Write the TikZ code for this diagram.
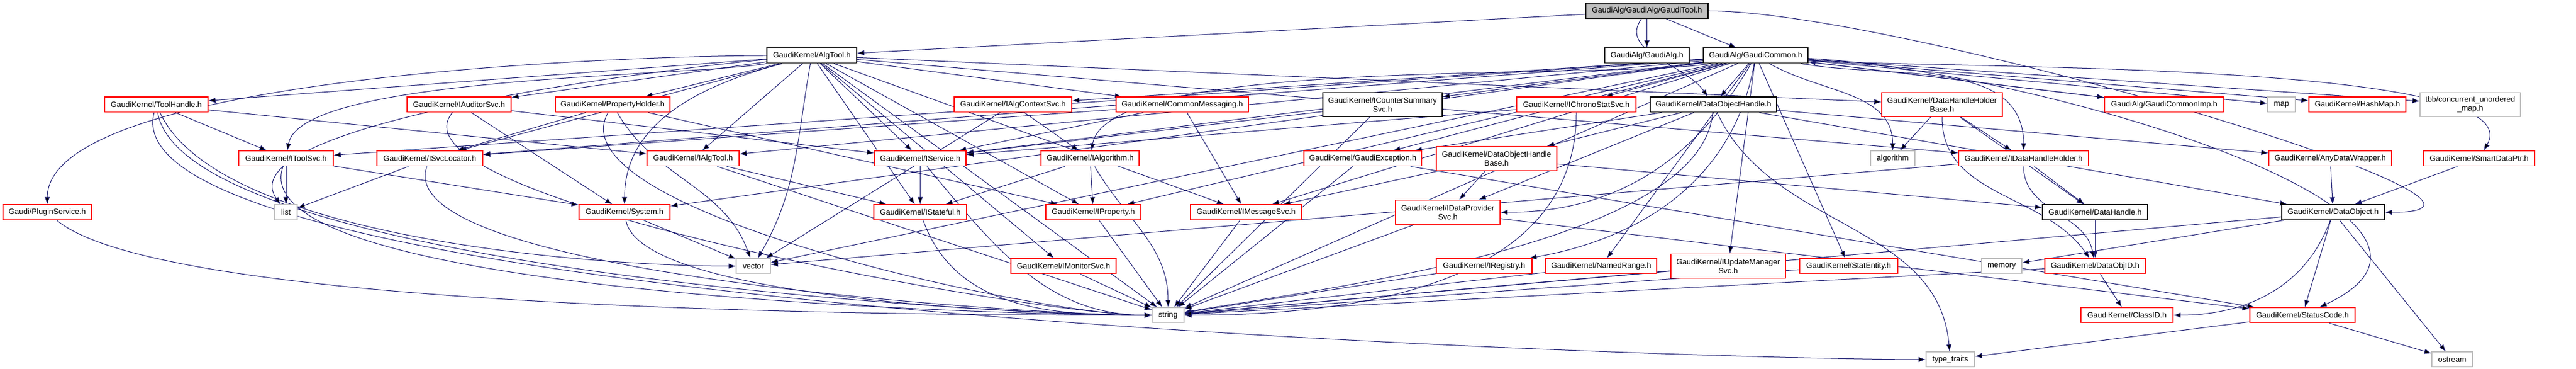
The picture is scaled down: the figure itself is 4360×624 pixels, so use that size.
\documentclass[tikz,border=0pt]{standalone}
\usepackage{fontspec}
\setmainfont{Liberation Sans}
\usetikzlibrary{arrows.meta,backgrounds}
\definecolor{edgeblue}{RGB}{25,25,112}
\definecolor{boxgray}{RGB}{191,191,191}
\tikzset{
  file/.style={draw=black,fill=white,line width=0.14pt,inner sep=0.2pt,minimum height=2.56pt,
    font=\fontsize{1.32}{1.52}\selectfont,align=center},
  redfile/.style={file,draw=red},
  sysfile/.style={file,draw=boxgray},
  twoline/.style={minimum height=4.1pt},
  wd/.style={minimum width=#1*0.1pt},
  dep/.style={draw=edgeblue,line width=0.1pt,-{Latex[length=1.2pt,width=0.9pt]}}
}
\begin{document}
\begin{tikzpicture}[x=0.1pt,y=-0.1pt]
        \useasboundingbox (0,0) rectangle (4360,624);
        % rank 0
        \node[file,fill=boxgray,wd=207] (GT) at (2787.5,18.5) {GaudiAlg/GaudiAlg/GaudiTool.h};
        % rank 1
        \node[file,wd=152] (AT) at (1374,94) {GaudiKernel/AlgTool.h};
        \node[file,wd=143] (GA) at (2787.5,94) {GaudiAlg/GaudiAlg.h};
        \node[file,wd=177] (GC) at (2971.5,94) {GaudiAlg/GaudiCommon.h};
        % rank 2
        \node[redfile,wd=175] (TH) at (264.5,177) {GaudiKernel/ToolHandle.h};
        \node[redfile,wd=176] (IAud) at (777,177) {GaudiKernel/IAuditorSvc.h};
        \node[redfile,wd=194] (PH) at (1037,177) {GaudiKernel/PropertyHolder.h};
        \node[redfile,wd=199] (IACS) at (1714.5,177) {GaudiKernel/IAlgContextSvc.h};
        \node[redfile,wd=224] (CM) at (2001,177) {GaudiKernel/CommonMessaging.h};
        \node[file,twoline,wd=202] (ICSS) at (2340,177) {GaudiKernel/ICounterSummary\\Svc.h};
        \node[redfile,wd=202] (ICSvc) at (2668,177) {GaudiKernel/IChronoStatSvc.h};
        \node[file,wd=214] (DOH) at (2900,177) {GaudiKernel/DataObjectHandle.h};
        \node[redfile,twoline,wd=204] (DHHB) at (3287,177) {GaudiKernel/DataHandleHolder\\Base.h};
        \node[redfile,wd=202] (GCImp) at (3663,177) {GaudiAlg/GaudiCommonImp.h};
        \node[sysfile,wd=47] (map) at (3861.5,177) {map};
        \node[redfile,wd=164] (HM) at (3990,177) {GaudiKernel/HashMap.h};
        \node[sysfile,twoline,wd=170] (tbb) at (4181,177) {tbb/concurrent\_unordered\\\_map.h};
        % rank 3
        \node[redfile,wd=160] (ITS) at (484,268) {GaudiKernel/IToolSvc.h};
        \node[redfile,wd=179] (ISL) at (727.5,268) {GaudiKernel/ISvcLocator.h};
        \node[redfile,wd=156] (IAT) at (1173,268) {GaudiKernel/IAlgTool.h};
        \node[redfile,wd=155] (ISvc) at (1557.5,268) {GaudiKernel/IService.h};
        \node[redfile,wd=166] (IAlgo) at (1845,268) {GaudiKernel/IAlgorithm.h};
        \node[redfile,wd=199] (GE) at (2306.5,268) {GaudiKernel/GaudiException.h};
        \node[redfile,twoline,wd=204] (DOHB) at (2533,268) {GaudiKernel/DataObjectHandle\\Base.h};
        \node[sysfile,wd=75] (alg) at (3203.5,268) {algorithm};
        \node[redfile,wd=220] (IDHH) at (3425,268) {GaudiKernel/IDataHandleHolder.h};
        \node[redfile,wd=208] (ADW) at (3944,268) {GaudiKernel/AnyDataWrapper.h};
        \node[redfile,wd=188] (SDP) at (4196,268) {GaudiKernel/SmartDataPtr.h};
        % rank 4
        \node[redfile,wd=150] (PS) at (80,359) {Gaudi/PluginService.h};
        \node[sysfile,wd=38] (lst) at (484,359) {list};
        \node[redfile,wd=154] (Sys) at (1057,359) {GaudiKernel/System.h};
        \node[redfile,wd=157] (ISt) at (1557.5,359) {GaudiKernel/IStateful.h};
        \node[redfile,wd=161] (IProp) at (1850.5,359) {GaudiKernel/IProperty.h};
        \node[redfile,wd=188] (IMsg) at (2109,359) {GaudiKernel/IMessageSvc.h};
        \node[redfile,twoline,wd=177] (IDPS) at (2450.5,359) {GaudiKernel/IDataProvider\\Svc.h};
        \node[file,wd=178] (DH) at (3546,359) {GaudiKernel/DataHandle.h};
        \node[file,wd=174] (DO) at (3949,359) {GaudiKernel/DataObject.h};
        % rank 5
        \node[sysfile,wd=58] (vec) at (1275,450) {vector};
        \node[redfile,wd=178] (IMon) at (1800,450) {GaudiKernel/IMonitorSvc.h};
        \node[redfile,wd=162] (IReg) at (2512,450) {GaudiKernel/IRegistry.h};
        \node[redfile,wd=188] (NR) at (2710,450) {GaudiKernel/NamedRange.h};
        \node[redfile,twoline,wd=194] (IUMS) at (2925,450) {GaudiKernel/IUpdateManager\\Svc.h};
        \node[redfile,wd=166] (SE) at (3129,450) {GaudiKernel/StatEntity.h};
        \node[sysfile,wd=68] (mem) at (3388,450) {memory};
        \node[redfile,wd=170] (DOID) at (3546,450) {GaudiKernel/DataObjID.h};
        % rank 6
        \node[sysfile,wd=54] (str) at (1977,533) {string};
        \node[redfile,wd=156] (CID) at (3600,533) {GaudiKernel/ClassID.h};
        \node[redfile,wd=178] (SC) at (3897,533) {GaudiKernel/StatusCode.h};
        % rank 7
        \node[sysfile,wd=82] (tt) at (3301,608) {type\_traits};
        \node[sysfile,wd=69] (os) at (4150.5,608) {ostream};
        % includes
        \begin{scope}[on background layer]
        \draw[dep] (GT) edge (GA) edge (GC) edge (AT) edge[out=-125,in=125] (DOH) edge[out=0,in=0,looseness=0.7] (DO);
        \draw[dep] (AT) edge[out=180,in=90,looseness=0.45] (PS) edge (TH) edge[out=185,in=125,looseness=0.5] (lst) edge[out=190,in=80,looseness=0.4] (ITS) edge (ISL) edge (IAud) edge (PH) edge (IAT) edge[out=195,in=90] (Sys) edge[out=-100,in=60] (vec) edge (str) edge (ISvc) edge (ISt) edge (IProp) edge (IMon) edge (IMsg) edge (CM) edge (DHHB) edge (IDHH);
        \draw[dep] (GC) edge (ITS) edge (ISL) edge (IAT) edge (Sys) edge[out=190,in=80,looseness=0.4] (IAlgo) edge (ISvc) edge (IProp) edge (IMsg) edge (IACS) edge (ICSS) edge (ICSvc) edge (GE) edge (DOH) edge[out=-120,in=0] (IDPS) edge[out=-100,in=10] (IReg) edge (NR) edge (IUMS) edge (SE) edge[out=-30,in=90] (alg) edge[out=-10,in=90] (IDHH) edge (map) edge (HM) edge (tbb) edge[out=-5,in=60,looseness=0.4] (SDP) edge[out=-3,in=25,looseness=1] (SC) edge (vec) edge (str) edge (GCImp);
        \draw[dep] (GCImp) -- (GC);
        \draw[dep] (TH) edge (ITS) edge (IAT) edge[out=-65,in=180,looseness=0.6] (vec) edge[out=-80,in=180,looseness=0.4] (str) edge[out=-105,in=180,looseness=0.3] (tt);
        \draw[dep] (PS) edge[out=-40,in=180,looseness=0.35] (str);
        \draw[dep] (ITS) edge (lst) edge (Sys) edge[out=-110,in=180,looseness=0.4] (str);
        \draw[dep] (ISL) edge (lst) edge[out=-110,in=180,looseness=0.4] (str);
        \draw[dep] (IAud) edge (Sys) edge (ISvc) edge[out=-130,in=180,looseness=0.4] (str);
        \draw[dep] (PH) edge (ISL) edge (IProp) edge[out=-60,in=110] (vec) edge[out=-120,in=180,looseness=0.5] (str);
        \draw[dep] (IAT) edge (ISt) edge (str);
        \draw[dep] (Sys) edge (vec) edge[out=-80,in=180,looseness=0.4] (str);
        \draw[dep] (ISvc) edge (ISt) edge[out=-50,in=180] (str);
        \draw[dep] (IACS) edge (IAlgo) edge (vec);
        \draw[dep] (IAlgo) edge (ISt) edge (IProp) edge[out=-60,in=90] (str);
        \draw[dep] (CM) edge (IMsg) edge (ISvc) edge (ISL);
        \draw[dep] (ICSS) edge (ISvc) edge (str);
        \draw[dep] (ICSvc) edge (ISvc) edge[out=-90,in=0] (str);
        \draw[dep] (DOH) edge (DOHB) edge (ADW) edge[out=-65,in=95] (tt) edge[out=-95,in=10,looseness=0.6] (str) edge (GE) edge (IDPS) edge (DO);
        \draw[dep] (DHHB) edge (alg) edge (IDHH) edge[out=-90,in=125] (DOID) edge (DH);
        \draw[dep] (DOHB) edge (IDPS) edge (IMsg) edge (DH);
        \draw[dep] (GE) edge (str) edge (SC);
        \draw[dep] (IDPS) edge (str) edge (SC);
        \draw[dep] (IDHH) edge (DH) edge[out=-90,in=100] (DOID) edge (vec);
        \draw[dep] (DH) -- (DOID);
        \draw[dep] (ADW) -- (DO);
        \draw[dep] (SDP) -- (DO);
        \draw[dep] (DO) edge (mem) edge (str) edge[out=-110,in=0] (CID) edge (SC) edge (os);
        \draw[dep] (DOID) edge (CID) edge (str);
        \draw[dep] (SC) edge (os) edge (tt);
        \draw[dep] (ISt) edge[out=-70,in=180] (str);
        \draw[dep] (IProp) edge (str);
        \draw[dep] (IMsg) edge (str);
        \draw[dep] (IMon) edge (str);
        \draw[dep] (IReg) edge (str);
        \draw[dep] (NR) edge (str);
        \draw[dep] (IUMS) edge (str);
        \draw[dep] (SE) edge (str);
        \end{scope}
    \end{tikzpicture}
\end{document}
